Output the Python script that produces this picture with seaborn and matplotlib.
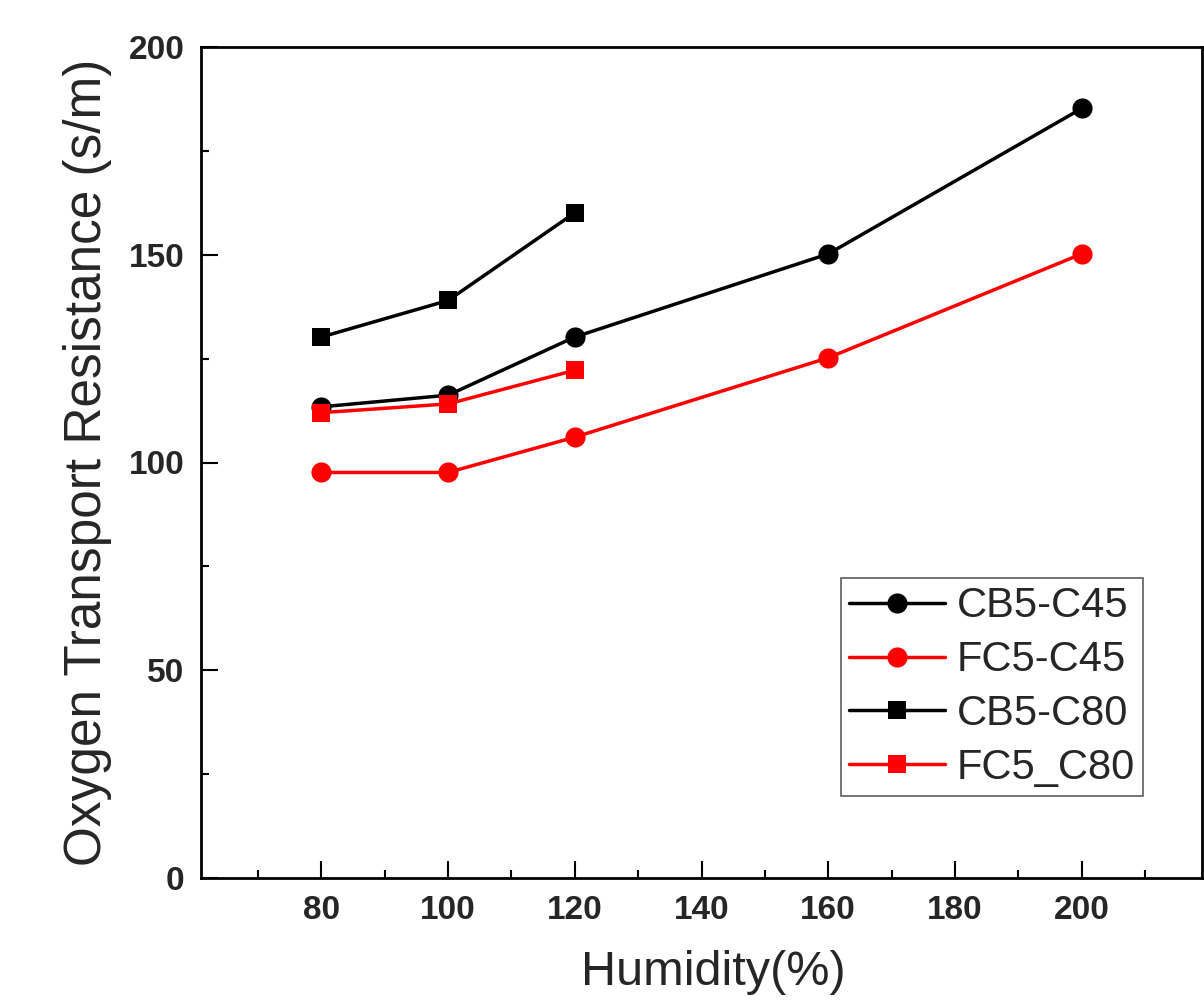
import matplotlib
matplotlib.use("Agg")
import matplotlib.pyplot as plt
import seaborn as sns
import pandas as pd
from matplotlib.ticker import MultipleLocator

sns.set_theme(style="white")
plt.rcParams['font.family'] = ['Liberation Sans', 'DejaVu Sans']

# ---- data ----
series_names = ["CB5-C45", "FC5-C45", "CB5-C80", "FC5_C80"]
x_c45 = [80, 100, 120, 160, 200]
x_c80 = [80, 100, 120]
cb5_c45 = [113.4, 116.2, 130.2, 150.2, 185.2]
fc5_c45 = [97.6, 97.6, 106.1, 125.2, 150.2]
cb5_c80 = [130.2, 139.0, 160.1]
fc5_c80 = [112.0, 114.1, 122.2]

series_x = [x_c45, x_c45, x_c80, x_c80]
series_y = [cb5_c45, fc5_c45, cb5_c80, fc5_c80]
colors = ["black", "red", "black", "red"]
markers = ["o", "o", "s", "s"]

fig = plt.figure(figsize=(12.04, 10.01), dpi=100)
ax = fig.add_axes([201/1204, 1 - 878/1001, (1202-201)/1204, (878-47)/1001])

for name, xs, ys, c, m in zip(series_names, series_x, series_y, colors, markers):
    df = pd.DataFrame({"x": xs, "y": ys})
    sns.lineplot(data=df, x="x", y="y", ax=ax, color=c, marker=m,
                 markersize=14.5 if m == "o" else 13, markeredgewidth=0,
                 linewidth=2.5, label=name)

ax.set_xlim(61, 219)
ax.set_ylim(0, 200)
ax.xaxis.set_major_locator(MultipleLocator(20))
ax.xaxis.set_minor_locator(MultipleLocator(10))
ax.yaxis.set_major_locator(MultipleLocator(50))
ax.yaxis.set_minor_locator(MultipleLocator(25))
ax.set_xticks([80, 100, 120, 140, 160, 180, 200])

ax.tick_params(axis="both", which="both", direction="in", top=False, right=False,
               bottom=True, left=True, color="black")
ax.tick_params(axis="both", which="major", length=12, width=1.5, labelsize=24, pad=12)
ax.tick_params(axis="both", which="minor", length=6, width=1.5)
for lab in ax.get_xticklabels() + ax.get_yticklabels():
    lab.set_fontweight("bold")

for sp in ax.spines.values():
    sp.set_visible(True)
    sp.set_color("black")
    sp.set_linewidth(2)

ax.set_xlabel("Humidity(%)", fontsize=35, labelpad=18)
ax.set_ylabel("Oxygen Transport Resistance (s/m)", fontsize=37, labelpad=12)
ax.xaxis.set_label_coords(0.512, -0.087)

leg = ax.legend(loc="lower right", bbox_to_anchor=(1143/1204, 1 - 796/1001),
                bbox_transform=fig.transFigure, fontsize=30, frameon=True,
                fancybox=False, edgecolor="#333333", handlelength=2.3,
                handletextpad=0.27, labelspacing=0.33, borderpad=0.2,
                borderaxespad=0)
leg.get_frame().set_linewidth(1.2)

fig.savefig("out.png", dpi=100, facecolor="white")
